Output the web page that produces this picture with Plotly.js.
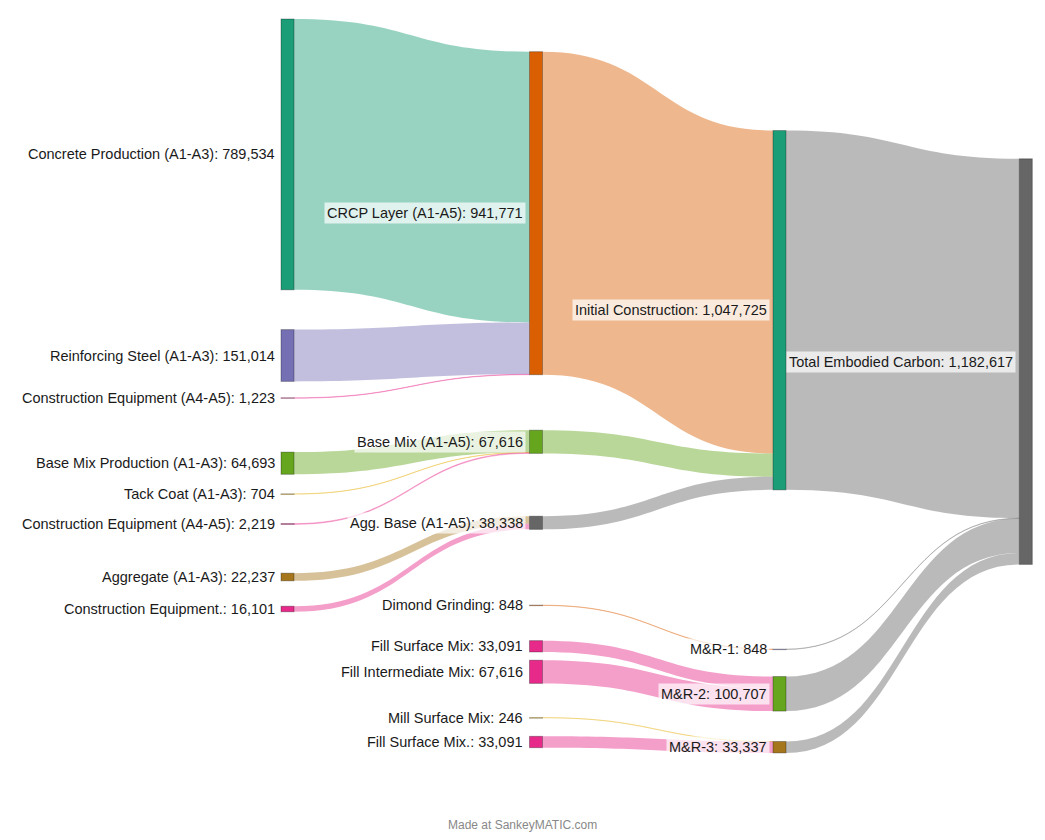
<!DOCTYPE html>
<html><head><meta charset="utf-8">
<script src="https://cdn.plot.ly/plotly-3.0.1.min.js"></script>
<style>html,body{margin:0;padding:0;background:#fff}</style>
</head><body>
<div id="chart" style="width:1045px;height:840px"></div>
<script>
// ---------- DATA ----------
const nodeNames = [
  "Concrete Production (A1-A3)",
  "Reinforcing Steel (A1-A3)",
  "Construction Equipment (A4-A5)",
  "Base Mix Production (A1-A3)",
  "Tack Coat (A1-A3)",
  "Construction Equipment (A4-A5)",
  "Aggregate (A1-A3)",
  "Construction Equipment.",
  "CRCP Layer (A1-A5)",
  "Base Mix (A1-A5)",
  "Agg. Base (A1-A5)",
  "Dimond Grinding",
  "Fill Surface Mix",
  "Fill Intermediate Mix",
  "Mill Surface Mix",
  "Fill Surface Mix.",
  "Initial Construction",
  "M&R-1",
  "M&R-2",
  "M&R-3",
  "Total Embodied Carbon"
];
const linkSource = [0, 1, 2, 3, 4, 5, 6, 7, 8, 9, 10, 11, 12, 13, 14, 15, 16, 17, 18, 19];
const linkTarget = [8, 8, 8, 9, 9, 9, 10, 10, 16, 16, 16, 17, 18, 18, 19, 19, 20, 20, 20, 20];
const linkValues = [789534, 151014, 1223, 64693, 704, 2219, 22237, 16101,
                    941771, 67616, 38338, 848, 33091, 67616, 246, 33091,
                    1047725, 848, 100707, 33337];

// ---------- STYLE / LAYOUT ----------
const TEAL = "#1b9e77", ORANGE = "#d95f02", PURPLE = "#7570b3", PINK = "#e7298a",
      GREEN = "#66a61e", YELLOW = "#e6ab02", BROWN = "#a6761d", GREY = "#666666";
const nodeColors = [TEAL, PURPLE, PINK, GREEN, YELLOW, PINK, BROWN, PINK,
                    ORANGE, GREEN, GREY, ORANGE, PINK, PINK, YELLOW, PINK,
                    TEAL, PURPLE, GREEN, BROWN, GREY];
// flows take the source colour, flows into the final node take its colour
const linkColorNodes = linkSource.map((s, i) => linkTarget[i] === 20 ? 20 : s);

// node centres (pixels in the 1045 x 840 plot area)
const nodeXpx = [287.5, 287.5, 287.5, 287.5, 287.5, 287.5, 287.5, 287.5,
                 536, 536, 536, 536, 536, 536, 536, 536,
                 779.5, 779.5, 779.5, 779.5, 1025.8];
const nodeYpx = [154.4, 355.5, 398, 463.2, 494, 524, 577, 609,
                 213.2, 441.8, 522.8, 605.3, 646.3, 671.8, 717.7, 742,
                 310.2, 649.3, 693.8, 747.2, 361.6];

const W = 1045, H = 840, THICK = 13, PAD = 36.2;
const KY = (H - 12 * PAD) / 1182617;   // px per unit of the sankey scale

function hexToRgba(hex, a) {
  const n = parseInt(hex.slice(1), 16);
  return `rgba(${(n >> 16) & 255},${(n >> 8) & 255},${n & 255},${a})`;
}

// node totals computed from the flows
const inSum = nodeNames.map(() => 0), outSum = nodeNames.map(() => 0);
linkValues.forEach((v, i) => { outSum[linkSource[i]] += v; inSum[linkTarget[i]] += v; });
const nodeTotals = nodeNames.map((_, i) => Math.max(inSum[i], outSum[i]));

// hairline flows are drawn with an extra stroke by plotly: lighten them
const linkAlpha = linkValues.map(v => v * KY < 1 ? 0.3 : 0.45);

const trace = {
  type: "sankey",
  arrangement: "fixed",
  domain: {x: [0, 1], y: [0, 1]},
  node: {
    label: nodeNames.map(() => ""),
    customdata: nodeNames.map((n, i) => n + ": " + nodeTotals[i].toLocaleString("en-US")),
    hovertemplate: "%{customdata}<extra></extra>",
    x: nodeXpx.map(v => v / W),
    y: nodeYpx.map(v => v / H),
    thickness: THICK,
    pad: PAD,
    color: nodeColors,
    line: {color: "rgba(0,0,0,0.3)", width: 1}
  },
  link: {
    source: linkSource,
    target: linkTarget,
    value: linkValues,
    color: linkColorNodes.map((n, i) => hexToRgba(nodeColors[n], linkAlpha[i])),
    hoverinfo: "none"
  },
  textfont: {size: 1, color: "rgba(0,0,0,0)"}
};

const annotations = nodeNames.map((n, i) => ({
  text: n.replace(/&/g, "&amp;") + ": " + nodeTotals[i].toLocaleString("en-US"),
  xref: "paper", yref: "paper",
  x: nodeXpx[i] / W, y: 1 - nodeYpx[i] / H,
  xanchor: "right", yanchor: "middle",
  xshift: -(THICK / 2 + 3.5),
  showarrow: false,
  bgcolor: "rgba(255,255,255,0.7)",
  borderpad: 2,
  font: {family: "Liberation Sans, Arial, sans-serif", size: 14.5, color: "#1a1a1a"}
}));
annotations.push({
  text: "Made at SankeyMATIC.com",
  xref: "paper", yref: "paper", x: 0.5, y: 1 - 825 / H,
  xanchor: "center", yanchor: "middle", showarrow: false,
  font: {family: "Liberation Sans, Arial, sans-serif", size: 12, color: "#888888"}
});

const layout = {
  width: W, height: H,
  margin: {l: 0, r: 0, t: 0, b: 0},
  paper_bgcolor: "#ffffff",
  font: {family: "Liberation Sans, Arial, sans-serif", size: 14, color: "#1a1a1a"},
  annotations: annotations,
  showlegend: false
};

Plotly.newPlot("chart", [trace], layout, {displayModeBar: false});
</script>
</body></html>
